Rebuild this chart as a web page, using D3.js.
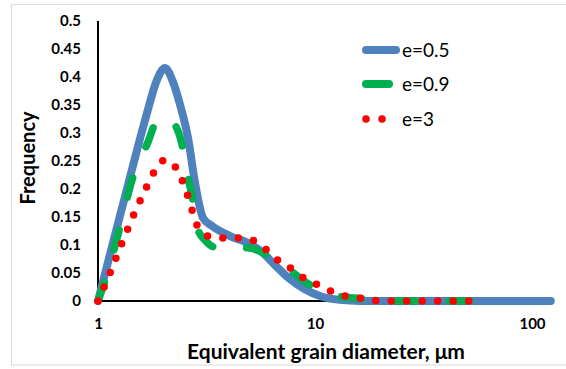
<!DOCTYPE html>
<html>
<head>
<meta charset="utf-8">
<script src="https://cdn.jsdelivr.net/npm/d3@7"></script>
<style>
  body { margin: 0; background: #fff; }
  svg { display: block; }
</style>
</head>
<body>
<svg id="chart" width="566" height="369"></svg>
<script>
// ---- data ----
const seriesNames = ["e=0.5", "e=0.9", "e=3"];
const xTicks = [1, 10, 100];
const yTicks = [0, 0.05, 0.1, 0.15, 0.2, 0.25, 0.3, 0.35, 0.4, 0.45, 0.5];

const blueX = [1, 1.185, 1.404, 1.664, 1.87, 2.036, 2.217, 2.39, 2.6, 2.8, 3.05, 3.35, 4.06, 5.01, 5.7, 6.54, 7.67, 8.98, 10.54, 13.0, 16.1, 40, 80, 122];
const blueY = [0, 0.111, 0.221, 0.329, 0.395, 0.416, 0.391, 0.35, 0.291, 0.211, 0.148, 0.134, 0.116, 0.102, 0.0875, 0.064, 0.039, 0.021, 0.009, 0.002, 0, 0, 0, 0];

const greenX = [1, 1.043, 1.263, 1.434, 1.7, 1.87, 2.03, 2.216, 2.44, 2.6, 2.74, 2.89, 3.11, 3.46, 4.1, 4.86, 6.21, 7.67, 9.19, 10.5, 13.5, 17.4, 24.6, 40, 56];
const greenY = [0, 0.02, 0.132, 0.216, 0.284, 0.323, 0.33, 0.32, 0.279, 0.22, 0.18, 0.127, 0.109, 0.096, 0.095, 0.095, 0.079, 0.055, 0.032, 0.02, 0.007, 0.004, 0, 0, 0];

const redX = [1, 1.136, 1.29, 1.465, 1.68, 1.81, 2.04, 2.29, 2.46, 2.6, 2.74, 2.89, 3.35, 3.93, 4.66, 5.4, 6.14, 6.97, 8.09, 9.19, 10.66, 12.36, 14.5, 17.2, 20.3, 35, 55];
const redY = [0, 0.05, 0.104, 0.155, 0.205, 0.23, 0.252, 0.2375, 0.2125, 0.186, 0.157, 0.132, 0.114, 0.1125, 0.1125, 0.105, 0.0875, 0.068, 0.054, 0.036, 0.027, 0.014, 0.007, 0.004, 0, 0, 0];

// ---- layout ----
const svg = d3.select("#chart");
const FONT = "Lato, 'Open Sans', 'Liberation Sans', sans-serif";

// outer border
svg.append("rect").attr("x", 11.5).attr("y", 4.5).attr("width", 570).attr("height", 360.5)
  .attr("fill", "none").attr("stroke", "#d9d9d9").attr("stroke-width", 1);

const x = d3.scaleLog().domain([1, 100]).range([98, 532]);
const y = d3.scaleLinear().domain([0, 0.5]).range([301, 21]);

// axes
const yAxis = svg.append("g").attr("transform", "translate(98,0)")
  .call(d3.axisLeft(y).tickValues(yTicks).tickSize(0).tickPadding(17)
    .tickFormat(d => d3.format("~g")(d)));
const xAxis = svg.append("g").attr("transform", "translate(0,301)")
  .call(d3.axisBottom(x).tickValues(xTicks).tickSize(0).tickPadding(17)
    .tickFormat(d3.format("d")));
[yAxis, xAxis].forEach(g => {
  g.select(".domain").attr("stroke", "#000").attr("stroke-width", 2);
  g.selectAll("text").attr("font-family", FONT).attr("font-weight", "bold")
    .attr("font-size", 15).attr("fill", "#000");
});
yAxis.select(".domain").attr("d", "M0,21V301");
xAxis.select(".domain").attr("d", "M98,0H532");

// axis titles
svg.append("text").attr("x", 326).attr("y", 359).attr("text-anchor", "middle")
  .attr("font-family", FONT).attr("font-weight", "bold").attr("font-size", 21)
  .text("Equivalent grain diameter, \u03bcm");
svg.append("text").attr("transform", "translate(35,158) rotate(-90)").attr("text-anchor", "middle")
  .attr("font-family", FONT).attr("font-weight", "bold").attr("font-size", 20)
  .text("Frequency");

// series
const line = d3.line().x(d => x(d[0])).y(d => y(d[1])).curve(d3.curveMonotoneX);
const zip = (a, b) => a.map((v, i) => [v, b[i]]);

svg.append("path").datum(zip(blueX, blueY)).attr("d", line)
  .attr("fill", "none").attr("stroke", "#4F81BD").attr("stroke-width", 8)
  .attr("stroke-linecap", "round").attr("stroke-linejoin", "round");
svg.append("path").datum(zip(greenX, greenY)).attr("d", line)
  .attr("fill", "none").attr("stroke", "#00B050").attr("stroke-width", 7.5)
  .attr("stroke-dasharray", "20,34").attr("stroke-linecap", "round");
svg.append("path").datum(zip(redX, redY)).attr("d", line)
  .attr("fill", "none").attr("stroke", "#FF0000").attr("stroke-width", 7.5)
  .attr("stroke-dasharray", "0,15.5").attr("stroke-linecap", "round");

// legend
const legend = svg.append("g");
const colors = ["#4F81BD", "#00B050", "#FF0000"];
const legY = [50, 84, 119];
seriesNames.forEach((name, i) => {
  const g = legend.append("g");
  if (i === 0) {
    g.append("line").attr("x1", 366).attr("x2", 396).attr("y1", legY[i]).attr("y2", legY[i])
      .attr("stroke", colors[i]).attr("stroke-width", 8).attr("stroke-linecap", "round");
  } else if (i === 1) {
    g.append("line").attr("x1", 366).attr("x2", 389).attr("y1", legY[i]).attr("y2", legY[i])
      .attr("stroke", colors[i]).attr("stroke-width", 8).attr("stroke-linecap", "round");
  } else {
    g.append("line").attr("x1", 366).attr("x2", 386).attr("y1", legY[i]).attr("y2", legY[i])
      .attr("stroke", colors[i]).attr("stroke-width", 7.5).attr("stroke-linecap", "round")
      .attr("stroke-dasharray", "0,16");
  }
  g.append("text").attr("x", 402).attr("y", legY[i]).attr("dy", "0.35em")
    .attr("font-family", FONT).attr("font-size", 19).attr("fill", "#000").text(name);
});
</script>
</body>
</html>
